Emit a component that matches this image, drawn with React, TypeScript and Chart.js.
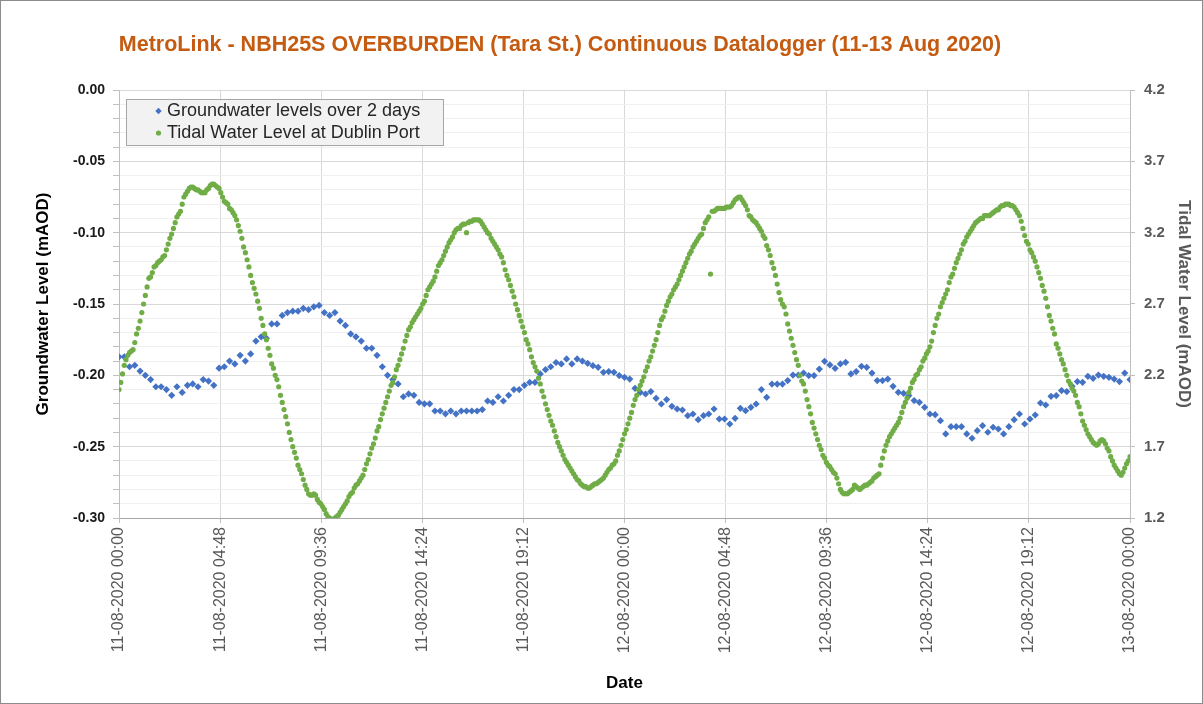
import React, { useEffect, useRef } from "react";
import { Chart, registerables } from "chart.js";

Chart.register(...registerables);

// ---------------- DATA ----------------
const chartTitle = "MetroLink - NBH25S OVERBURDEN (Tara St.) Continuous Datalogger (11-13 Aug 2020)";
const seriesNames = ["Groundwater levels over 2 days", "Tidal Water Level at Dublin Port"];
const startDay = 11; // 11-08-2020 00:00
const groundwaterStepHours = 0.25; // one reading every 15 min
const tidalStepHours = 5 / 60; // one reading every 5 min

// Groundwater level (mAOD), left axis
const groundwaterLevels = [
  -0.187, -0.187, -0.194, -0.193, -0.197, -0.200, -0.203, -0.208, -0.208, -0.210,
  -0.214, -0.208, -0.212, -0.207, -0.206, -0.208, -0.203, -0.204, -0.207, -0.195,
  -0.194, -0.190, -0.192, -0.186, -0.190, -0.185, -0.176, -0.173, -0.174, -0.164,
  -0.164, -0.158, -0.156, -0.155, -0.155, -0.153, -0.154, -0.152, -0.151, -0.156,
  -0.158, -0.156, -0.162, -0.165, -0.171, -0.173, -0.176, -0.181, -0.181, -0.186,
  -0.194, -0.200, -0.203, -0.206, -0.215, -0.213, -0.214, -0.219, -0.220, -0.220,
  -0.225, -0.225, -0.227, -0.225, -0.227, -0.225, -0.225, -0.225, -0.225, -0.224,
  -0.218, -0.219, -0.215, -0.218, -0.214, -0.210, -0.210, -0.207, -0.205, -0.205,
  -0.199, -0.196, -0.194, -0.191,
  -0.192, -0.1885, -0.192, -0.1885, -0.190, -0.1916, -0.1932, -0.1944, -0.1979, -0.1974,
  -0.1979, -0.2002, -0.2014, -0.2026, -0.2091, -0.2119, -0.2131, -0.2114, -0.2161, -0.2201,
  -0.2170, -0.2217, -0.2236, -0.2243, -0.2283, -0.2271, -0.2311, -0.2283, -0.2271, -0.2236,
  -0.2306, -0.2306, -0.2341, -0.2301, -0.2231, -0.2248, -0.2224, -0.2201, -0.2100, -0.2154,
  -0.2061, -0.2061, -0.2061, -0.2037, -0.1998, -0.1998, -0.1984, -0.2002, -0.2002, -0.1956,
  -0.1902, -0.1927, -0.1951, -0.1920, -0.1909, -0.1990, -0.1974, -0.1937, -0.1944, -0.1984,
  -0.2037, -0.2037, -0.2026, -0.2077, -0.2119, -0.2126, -0.2142, -0.2177, -0.2189, -0.2224,
  -0.2271, -0.2276, -0.2318, -0.2411, -0.2360, -0.2360, -0.2360, -0.2411, -0.2441, -0.2388,
  -0.2353, -0.2399, -0.2364, -0.2376, -0.2411, -0.2360, -0.2311, -0.2271, -0.2341, -0.2306,
  -0.2278, -0.2194, -0.2208, -0.2147, -0.2142, -0.2107, -0.2114, -0.2077, -0.2044, -0.2049,
  -0.2007, -0.2021, -0.1998, -0.2007, -0.2014, -0.2026, -0.2044, -0.1984, -0.2030,
];

// Tidal water level at Dublin Port (mAOD), right axis — one row per hour
const tidalLevels = [
  2.10, 2.15, 2.21, 2.27, 2.31, 2.34, 2.36, 2.37, 2.38, 2.43, 2.49, 2.53,
  2.58, 2.64, 2.70, 2.76, 2.82, 2.88, 2.89, 2.92, 2.96, 2.97, 2.99, 3.00,
  3.01, 3.03, 3.04, 3.08, 3.12, 3.16, 3.19, 3.23, 3.27, 3.31, 3.33, 3.35,
  3.40, 3.45, 3.47, 3.49, 3.51, 3.52, 3.52, 3.51, 3.50, 3.50, 3.49, 3.48,
  3.48, 3.48, 3.50, 3.51, 3.53, 3.54, 3.54, 3.53, 3.52, 3.51, 3.48, 3.45,
  3.42, 3.41, 3.40, 3.37, 3.36, 3.34, 3.32, 3.29, 3.25, 3.21, 3.16, 3.10,
  3.06, 3.01, 2.96, 2.90, 2.85, 2.81, 2.77, 2.72, 2.67, 2.60, 2.55, 2.49,
  2.45, 2.39, 2.34, 2.28, 2.25, 2.20, 2.17, 2.12, 2.06, 2.01, 1.96, 1.91,
  1.86, 1.80, 1.75, 1.70, 1.66, 1.62, 1.57, 1.54, 1.51, 1.47, 1.43, 1.40,
  1.37, 1.36, 1.36, 1.37, 1.36, 1.33, 1.31, 1.30, 1.28, 1.26, 1.23, 1.21,
  1.20, 1.19, 1.19, 1.20, 1.21, 1.22, 1.24, 1.26, 1.28, 1.30, 1.32, 1.35,
  1.37, 1.38, 1.41, 1.43, 1.44, 1.46, 1.48, 1.50, 1.54, 1.58, 1.61, 1.65,
  1.69, 1.72, 1.76, 1.81, 1.84, 1.89, 1.93, 1.97, 2.01, 2.05, 2.09, 2.13,
  2.15, 2.19, 2.24, 2.27, 2.31, 2.35, 2.39, 2.44, 2.48, 2.52, 2.54, 2.57,
  2.59, 2.61, 2.63, 2.65, 2.67, 2.70, 2.72, 2.76, 2.80, 2.82, 2.84, 2.86,
  2.89, 2.93, 2.97, 2.99, 3.01, 3.04, 3.07, 3.10, 3.13, 3.15, 3.17, 3.20,
  3.22, 3.23, 3.23, 3.25, 3.26, 3.26, 3.20, 3.27, 3.28, 3.28, 3.29, 3.29,
  3.29, 3.29, 3.28, 3.26, 3.24, 3.22, 3.20, 3.19, 3.16, 3.14, 3.12, 3.10,
  3.08, 3.05, 3.03, 2.99, 2.94, 2.90, 2.87, 2.83, 2.79, 2.75, 2.70, 2.66,
  2.62, 2.58, 2.54, 2.50, 2.45, 2.42, 2.38, 2.33, 2.29, 2.26, 2.23, 2.18,
  2.14, 2.09, 2.05, 2.00, 1.96, 1.92, 1.88, 1.85, 1.81, 1.77, 1.73, 1.70,
  1.67, 1.64, 1.61, 1.59, 1.57, 1.55, 1.53, 1.51, 1.49, 1.47, 1.46, 1.44,
  1.43, 1.42, 1.42, 1.41, 1.41, 1.42, 1.43, 1.44, 1.44, 1.45, 1.46, 1.47,
  1.48, 1.50, 1.52, 1.54, 1.55, 1.57, 1.58, 1.60, 1.64, 1.67, 1.71, 1.75,
  1.79, 1.82, 1.86, 1.90, 1.94, 1.99, 2.03, 2.06, 2.10, 2.13, 2.16, 2.19,
  2.23, 2.26, 2.30, 2.33, 2.37, 2.41, 2.45, 2.50, 2.55, 2.59, 2.61, 2.65,
  2.69, 2.72, 2.75, 2.77, 2.80, 2.82, 2.84, 2.87, 2.90, 2.93, 2.96, 2.99,
  3.02, 3.05, 3.07, 3.10, 3.12, 3.14, 3.16, 3.18, 3.19, 3.23, 3.27, 3.29,
  3.31, 2.91, 3.35, 3.35, 3.36, 3.37, 3.37, 3.37, 3.37, 3.37, 3.38, 3.38,
  3.38, 3.39, 3.41, 3.43, 3.44, 3.45, 3.45, 3.43, 3.41, 3.39, 3.36, 3.32,
  3.31, 3.29, 3.28, 3.27, 3.25, 3.23, 3.21, 3.18, 3.16, 3.11, 3.08, 3.04,
  2.99, 2.95, 2.90, 2.84, 2.78, 2.73, 2.70, 2.68, 2.63, 2.56, 2.51, 2.46,
  2.41, 2.36, 2.31, 2.27, 2.20, 2.16, 2.14, 2.09, 2.03, 1.98, 1.93, 1.87,
  1.83, 1.79, 1.75, 1.71, 1.68, 1.64, 1.62, 1.59, 1.57, 1.56, 1.54, 1.52,
  1.51, 1.48, 1.44, 1.40, 1.38, 1.37, 1.37, 1.37, 1.38, 1.39, 1.40, 1.43,
  1.42, 1.41, 1.40, 1.41, 1.42, 1.43, 1.43, 1.44, 1.45, 1.46, 1.48, 1.49,
  1.50, 1.51, 1.57, 1.62, 1.67, 1.71, 1.74, 1.77, 1.79, 1.81, 1.83, 1.85,
  1.87, 1.90, 1.94, 1.98, 2.01, 2.04, 2.08, 2.11, 2.15, 2.17, 2.20, 2.21,
  2.24, 2.26, 2.30, 2.32, 2.35, 2.37, 2.40, 2.44, 2.50, 2.55, 2.60, 2.63,
  2.68, 2.71, 2.74, 2.77, 2.80, 2.85, 2.89, 2.91, 2.95, 2.99, 3.02, 3.05,
  3.08, 3.12, 3.14, 3.17, 3.19, 3.21, 3.23, 3.25, 3.27, 3.28, 3.29, 3.30,
  3.30, 3.32, 3.32, 3.32, 3.32, 3.33, 3.34, 3.35, 3.36, 3.36, 3.38, 3.39,
  3.39, 3.40, 3.40, 3.40, 3.39, 3.39, 3.38, 3.36, 3.34, 3.32, 3.28, 3.23,
  3.18, 3.14, 3.12, 3.08, 3.06, 3.03, 3.00, 2.96, 2.92, 2.88, 2.83, 2.79,
  2.74, 2.68, 2.62, 2.58, 2.53, 2.49, 2.42, 2.39, 2.35, 2.31, 2.28, 2.24,
  2.20, 2.16, 2.14, 2.11, 2.09, 2.06, 2.01, 1.98, 1.93, 1.88, 1.85, 1.82,
  1.79, 1.77, 1.75, 1.73, 1.72, 1.71, 1.72, 1.74, 1.75, 1.74, 1.72, 1.69,
  1.67, 1.63, 1.60, 1.57, 1.55, 1.53, 1.51, 1.50, 1.52, 1.55, 1.58, 1.60,
  1.63,
];

// Axis ticks
const xTickHours = [0, 4.8, 9.6, 14.4, 19.2, 24, 28.8, 33.6, 38.4, 43.2, 48];
const leftMajorTicks = [-0.3, -0.25, -0.2, -0.15, -0.1, -0.05, 0.0];
const leftMinorStep = 0.01;
const rightTicks = [1.2, 1.7, 2.2, 2.7, 3.2, 3.7, 4.2];

// ---------------- STYLE ----------------
const FONT = "'Liberation Sans', Arial, Helvetica, sans-serif";
const BLUE = "#4472C4";
const GREEN = "#70AD47";

const pad2 = (n: number) => String(n).padStart(2, "0");
const formatDate = (hours: number) => {
  const mins = Math.round(hours * 60);
  const day = startDay + Math.floor(mins / 1440);
  const m = mins % 1440;
  return `${pad2(day)}-08-2020 ${pad2(Math.floor(m / 60))}:${pad2(m % 60)}`;
};

const decorPlugin = {
  id: "decor",
  beforeDraw(chart: any) {
    const { ctx, width, height } = chart;
    ctx.save();
    ctx.fillStyle = "#ffffff";
    ctx.fillRect(0, 0, width, height);
    ctx.restore();
  },
  afterDraw(chart: any) {
    const { ctx, width, height } = chart;
    ctx.save();
    // title
    ctx.font = `bold 21.5px ${FONT}`;
    ctx.fillStyle = "#C55A11";
    ctx.textAlign = "center";
    ctx.textBaseline = "middle";
    ctx.fillText(chartTitle, 560, 45);

    // legend box
    ctx.fillStyle = "#f2f2f2";
    ctx.fillRect(126.5, 99.5, 317, 46);
    ctx.strokeStyle = "#a6a6a6";
    ctx.lineWidth = 1;
    ctx.strokeRect(126.5, 99.5, 317, 46);

    // markers
    const bx = 158.5, by = 111;
    ctx.fillStyle = BLUE;
    ctx.beginPath();
    ctx.moveTo(bx, by - 3.2);
    ctx.lineTo(bx + 3.2, by);
    ctx.lineTo(bx, by + 3.2);
    ctx.lineTo(bx - 3.2, by);
    ctx.closePath();
    ctx.fill();
    ctx.fillStyle = GREEN;
    ctx.beginPath();
    ctx.arc(158.5, 133, 2.6, 0, Math.PI * 2);
    ctx.fill();

    ctx.font = `18px ${FONT}`;
    ctx.fillStyle = "#262626";
    ctx.textAlign = "left";
    ctx.fillText(seriesNames[0], 167, 111);
    ctx.fillText(seriesNames[1], 167, 133);

    // outer frame
    ctx.strokeStyle = "#8c8c8c";
    ctx.strokeRect(0.5, 0.5, width - 1, height - 1);
    ctx.restore();
  },
};

export default function App() {
  const canvasRef = useRef<HTMLCanvasElement | null>(null);

  useEffect(() => {
    document.body.style.margin = "0";
    const canvas = canvasRef.current;
    if (!canvas) return;

    const gwData = groundwaterLevels.map((v, i) => ({ x: i * groundwaterStepHours, y: v }));
    const tideData = tidalLevels.map((v, i) => ({ x: i * tidalStepHours, y: v }));

    const chart = new Chart(canvas, {
      type: "scatter",
      data: {
        datasets: [
          {
            label: seriesNames[1],
            data: tideData,
            yAxisID: "y2",
            pointStyle: "circle",
            pointRadius: 2.6,
            pointBorderWidth: 0,
            pointBackgroundColor: GREEN,
            backgroundColor: GREEN,
            borderColor: GREEN,
            showLine: false,
          },
          {
            label: seriesNames[0],
            data: gwData,
            yAxisID: "y",
            pointStyle: "rectRot",
            pointRadius: 3.6,
            pointBorderWidth: 0,
            pointBackgroundColor: BLUE,
            backgroundColor: BLUE,
            borderColor: BLUE,
            showLine: false,
          },
        ],
      },
      options: {
        responsive: false,
        animation: false,
        events: [],
        layout: { padding: { top: 90, left: 0, right: 0, bottom: 0 } },
        plugins: {
          legend: { display: false },
          title: { display: false },
          tooltip: { enabled: false },
        },
        scales: {
          x: {
            type: "linear",
            min: 0,
            max: 48,
            afterBuildTicks: (scale: any) => {
              scale.ticks = xTickHours.map((v) => ({ value: v }));
            },
            afterFit: (scale: any) => {
              scale.height = 186;
            },
            grid: { color: "#d9d9d9", tickLength: 5, tickColor: "#bfbfbf" },
            border: { color: "#a6a6a6", width: 1 },
            ticks: {
              autoSkip: false,
              minRotation: 90,
              maxRotation: 90,
              padding: 4,
              color: "#595959",
              font: { family: FONT, size: 16 },
              callback: (v: any) => formatDate(Number(v)),
            },
            title: {
              display: true,
              text: "Date",
              color: "#000000",
              font: { family: FONT, size: 17, weight: "bold" },
              padding: { top: 0, bottom: 10 },
            },
          },
          y: {
            type: "linear",
            position: "left",
            min: -0.3,
            max: 0,
            afterBuildTicks: (scale: any) => {
              const ticks: any[] = [];
              const lo = leftMajorTicks[0];
              const hi = leftMajorTicks[leftMajorTicks.length - 1];
              const n = Math.round((hi - lo) / leftMinorStep);
              for (let k = 0; k <= n; k++) {
                ticks.push({ value: Math.round((lo + k * leftMinorStep) * 100) / 100 });
              }
              scale.ticks = ticks;
            },
            afterFit: (scale: any) => {
              scale.width = 119;
            },
            grid: {
              color: (c: any) => {
                const v = c.tick ? c.tick.value : 0;
                return Math.round(v * 100) % 5 === 0 ? "#d9d9d9" : "#efefef";
              },
              tickColor: "#bfbfbf",
              tickLength: 6,
            },
            border: { color: "#bfbfbf", width: 1 },
            ticks: {
              autoSkip: false,
              padding: 8,
              color: "#1a1a1a",
              font: { family: FONT, size: 14, weight: "bold" },
              callback: (v: any) => {
                const n = Number(v);
                return Math.round(n * 100) % 5 === 0 ? n.toFixed(2) : "";
              },
            },
            title: {
              display: true,
              text: "Groundwater Level (mAOD)",
              color: "#000000",
              font: { family: FONT, size: 17, weight: "bold" },
              padding: { top: 33, bottom: 0 },
            },
          },
          y2: {
            type: "linear",
            position: "right",
            min: 1.2,
            max: 4.2,
            afterBuildTicks: (scale: any) => {
              scale.ticks = rightTicks.map((v) => ({ value: v }));
            },
            afterFit: (scale: any) => {
              scale.width = 73;
            },
            grid: { drawOnChartArea: false, tickLength: 5, tickColor: "#bfbfbf" },
            border: { color: "#bfbfbf", width: 1 },
            ticks: {
              autoSkip: false,
              padding: 9,
              color: "#595959",
              font: { family: FONT, size: 15, weight: "bold" },
              callback: (v: any) => Number(v).toFixed(1),
            },
            title: {
              display: true,
              text: "Tidal Water Level (mAOD)",
              color: "#595959",
              font: { family: FONT, size: 17, weight: "bold" },
              padding: { top: 9, bottom: 0 },
            },
          },
        },
      },
      plugins: [decorPlugin],
    } as any);

    return () => chart.destroy();
  }, []);

  return (
    <div style={{ width: 1203, height: 704 }}>
      <canvas ref={canvasRef} width={1203} height={704} style={{ display: "block" }} />
    </div>
  );
}
